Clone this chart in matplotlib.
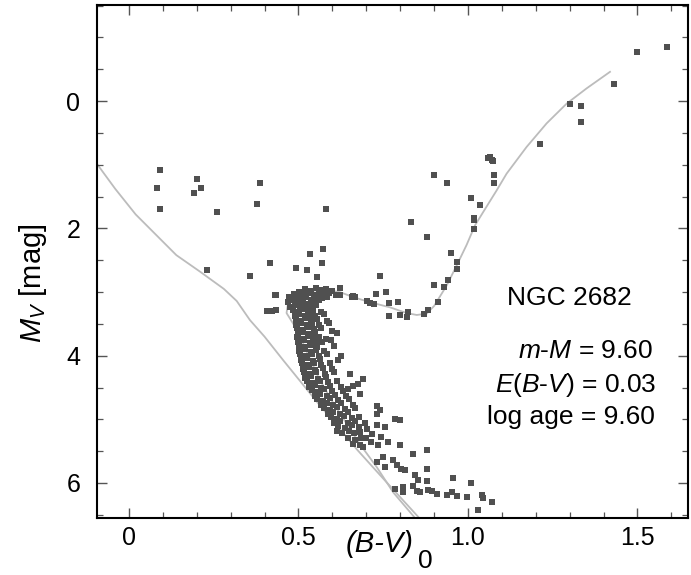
import matplotlib
matplotlib.use("Agg")
import matplotlib.pyplot as plt
from matplotlib.ticker import MultipleLocator

plt.rcParams['font.family'] = ['Liberation Sans', 'DejaVu Sans']
plt.rcParams['mathtext.fontset'] = 'custom'
plt.rcParams['mathtext.rm'] = 'Liberation Sans'
plt.rcParams['mathtext.it'] = 'Liberation Sans:italic'

# ZAMS-like line (left curve)
zams_bv = [-0.095, -0.04, 0.02, 0.08, 0.14, 0.21, 0.28, 0.318, 0.357,
           0.40, 0.455, 0.56, 0.622, 0.672, 0.75, 0.865]
zams_mv = [0.98, 1.38, 1.78, 2.10, 2.42, 2.68, 2.95, 3.14, 3.44,
           3.70, 4.07, 4.76, 5.15, 5.47, 5.93, 6.60]

# isochrone
iso_bv = [0.852, 0.78, 0.731, 0.68, 0.64, 0.60, 0.56, 0.53, 0.505, 0.485, 0.465, 0.47, 0.49,
          0.53, 0.58, 0.622, 0.662, 0.711, 0.770, 0.819, 0.849, 0.878, 0.90, 0.937, 0.967,
          0.996, 1.021, 1.05, 1.085, 1.114, 1.173, 1.232, 1.291, 1.350, 1.419]
iso_mv = [6.60, 6.15, 5.75, 5.38, 5.05, 4.72, 4.35, 4.00, 3.70, 3.50, 3.33, 3.15, 3.03,
          2.98, 2.97, 3.00, 3.08, 3.16, 3.24, 3.33, 3.36, 3.34, 3.22, 2.90, 2.58,
          2.26, 1.95, 1.70, 1.40, 1.14, 0.72, 0.35, 0.04, -0.20, -0.46]

# scattered stars (blue stragglers etc.)
bs_bv = [0.091, 0.082, 0.091, 0.200, 0.213, 0.192, 0.259, 0.386, 0.377, 0.580, 0.231, 0.357,
         0.417, 0.492, 0.524, 0.534, 0.573, 0.571, 0.554, 0.434, 0.406, 0.421, 0.434, 0.473,
         0.622, 0.431, 0.622, 0.657, 0.667]
bs_mv = [1.08, 1.36, 1.70, 1.23, 1.36, 1.44, 1.74, 1.29, 1.61, 1.69, 2.66, 2.74,
         2.54, 2.62, 2.66, 2.40, 2.33, 2.55, 2.77, 3.04, 3.30, 3.29, 3.28, 3.08,
         2.93, 3.05, 3.05, 3.07, 3.08]

# subgiant and giant branch
gb_bv = [1.065, 1.073, 1.077, 1.077, 1.060, 1.070, 0.901, 0.939, 1.009, 1.037, 1.018, 1.018,
         1.018, 0.831, 0.880, 0.949, 0.968, 0.968, 0.940, 0.930, 0.901, 0.911, 0.883, 0.870,
         0.824, 0.821, 0.801, 0.768, 0.740, 0.758, 0.729, 0.793, 0.768, 0.723, 0.711, 0.701,
         0.662, 1.499, 1.588, 1.432, 1.301, 1.332, 1.332, 1.212]
gb_mv = [0.885, 0.939, 1.159, 1.294, 0.90, 0.92, 1.159, 1.285, 1.520, 1.640, 1.829, 1.871,
         2.017, 1.898, 2.134, 2.379, 2.531, 2.642, 2.803, 2.920, 2.888, 3.156, 3.286, 3.349,
         3.313, 3.392, 3.365, 3.381, 2.752, 2.998, 3.024, 3.156, 3.171, 3.181, 3.171, 3.140,
         3.066, -0.775, -0.844, -0.267, 0.047, 0.079, 0.325, 0.681]

# turnoff and upper main sequence (one line per magnitude band)
ms_bv = [0.520, 0.538, 0.552, 0.566, 0.581, 0.598,
         0.488, 0.503, 0.512, 0.528, 0.545, 0.560, 0.575, 0.590, 0.612,
         0.478, 0.493, 0.508, 0.522, 0.537, 0.553, 0.571, 0.585,
         0.468, 0.484, 0.500, 0.515, 0.531, 0.546, 0.562,
         0.476, 0.491, 0.506, 0.519, 0.536, 0.552,
         0.483, 0.496, 0.512, 0.528, 0.543, 0.566,
         0.489, 0.503, 0.518, 0.531, 0.550, 0.575,
         0.492, 0.507, 0.521, 0.538, 0.556, 0.583,
         0.494, 0.509, 0.524, 0.541, 0.560, 0.590,
         0.496, 0.510, 0.527, 0.545, 0.566,
         0.499, 0.513, 0.530, 0.548, 0.598, 0.614,
         0.497, 0.512, 0.528, 0.544, 0.562, 0.580,
         0.500, 0.516, 0.533, 0.551, 0.571, 0.597,
         0.502, 0.518, 0.536, 0.555, 0.604,
         0.503, 0.519, 0.537, 0.553, 0.575,
         0.505, 0.521, 0.540, 0.560, 0.585, 0.626,
         0.508, 0.524, 0.542, 0.565, 0.617,
         0.510, 0.527, 0.546, 0.568, 0.592,
         0.513, 0.530, 0.550, 0.572, 0.600,
         0.516, 0.534, 0.553, 0.577, 0.605, 0.652,
         0.520, 0.538, 0.558, 0.582, 0.691,
         0.525, 0.543, 0.563, 0.587, 0.615, 0.677,
         0.530, 0.548, 0.568, 0.592, 0.625, 0.647, 0.662,
         0.540, 0.557, 0.576, 0.600, 0.632,
         0.548, 0.565, 0.585, 0.608, 0.640, 0.681,
         0.556, 0.573, 0.594, 0.617, 0.648,
         0.566, 0.583, 0.603, 0.626, 0.660, 0.731,
         0.576, 0.594, 0.613, 0.636, 0.668, 0.740,
         0.586, 0.603, 0.623, 0.646, 0.731,
         0.596, 0.613, 0.633, 0.657, 0.680, 0.785, 0.799,
         0.606, 0.623, 0.645, 0.668, 0.695,
         0.618, 0.636, 0.658, 0.680,
         0.630, 0.650, 0.665,
         0.645, 0.668, 0.700,
         0.660, 0.715, 0.735]
ms_mv = [2.95, 2.98, 2.94, 2.97, 2.95, 2.98,
         3.03, 3.00, 3.05, 3.01, 3.04, 3.00, 3.03, 3.01, 3.04,
         3.10, 3.07, 3.11, 3.08, 3.12, 3.07, 3.10, 3.08,
         3.16, 3.13, 3.17, 3.14, 3.18, 3.15, 3.13,
         3.23, 3.20, 3.24, 3.21, 3.23, 3.20,
         3.28, 3.31, 3.27, 3.30, 3.28, 3.31,
         3.37, 3.34, 3.38, 3.35, 3.37, 3.34,
         3.42, 3.45, 3.41, 3.44, 3.42, 3.45,
         3.51, 3.48, 3.52, 3.49, 3.51, 3.48,
         3.56, 3.59, 3.55, 3.58, 3.56,
         3.65, 3.62, 3.66, 3.63, 3.61, 3.65,
         3.70, 3.73, 3.69, 3.72, 3.70, 3.73,
         3.79, 3.76, 3.80, 3.77, 3.79, 3.76,
         3.84, 3.87, 3.83, 3.86, 3.84,
         3.93, 3.90, 3.94, 3.91, 3.93,
         3.98, 4.01, 3.97, 4.00, 3.98, 4.00,
         4.07, 4.04, 4.08, 4.05, 4.06,
         4.12, 4.15, 4.11, 4.14, 4.12,
         4.21, 4.18, 4.22, 4.19, 4.21,
         4.26, 4.29, 4.25, 4.28, 4.26, 4.29,
         4.35, 4.32, 4.36, 4.33, 4.37,
         4.40, 4.43, 4.39, 4.42, 4.40, 4.45,
         4.49, 4.46, 4.50, 4.47, 4.49, 4.52, 4.48,
         4.54, 4.57, 4.53, 4.56, 4.55,
         4.63, 4.60, 4.64, 4.61, 4.63, 4.60,
         4.68, 4.71, 4.67, 4.70, 4.68,
         4.77, 4.74, 4.78, 4.75, 4.77, 4.79,
         4.82, 4.85, 4.81, 4.84, 4.82, 4.86,
         4.91, 4.88, 4.92, 4.89, 4.91,
         4.96, 4.99, 4.95, 4.98, 4.96, 5.00, 5.01,
         5.05, 5.02, 5.06, 5.03, 5.05,
         5.10, 5.13, 5.09, 5.12,
         5.21, 5.18, 5.22,
         5.29, 5.32, 5.30,
         5.39, 5.36, 5.40]

# lower main sequence
lms_bv = [0.613, 0.681, 0.686, 0.701, 0.716, 0.731, 0.745, 0.755, 0.765, 0.799, 0.839, 0.878,
          0.878, 0.731, 0.750, 0.755, 0.780, 0.790, 0.804, 0.814, 0.844, 0.853, 0.878, 0.957,
          1.008, 0.785, 0.809, 0.809, 0.839, 0.849, 0.858, 0.883, 0.893, 0.908, 0.937, 0.952,
          0.967, 0.996, 1.040, 1.045, 1.070, 1.030, 0.691, 0.681]
lms_mv = [5.18, 5.20, 5.30, 5.15, 5.23, 5.09, 5.28, 5.12, 5.36, 5.41, 5.54, 5.48,
          5.78, 5.67, 5.59, 5.75, 5.64, 5.72, 5.78, 5.80, 5.88, 5.96, 5.97, 5.92,
          6.00, 6.09, 6.06, 6.14, 6.04, 6.12, 6.14, 6.11, 6.12, 6.17, 6.19, 6.14,
          6.21, 6.22, 6.19, 6.24, 6.30, 6.43, 5.44, 5.41]

fig = plt.figure(figsize=(6.91, 5.75), dpi=100)
ax = fig.add_axes([97 / 691, 1 - 518 / 575, 591 / 691, 513 / 575])

ax.plot(zams_bv, zams_mv, color='#bcbcbc', lw=1.3, zorder=1)
ax.plot(iso_bv, iso_mv, color='#bcbcbc', lw=1.3, zorder=1)

star = dict(marker='s', s=18, color='#505050', linewidths=0, zorder=2)
ax.scatter(bs_bv, bs_mv, **star)
ax.scatter(gb_bv, gb_mv, **star)
ax.scatter(ms_bv, ms_mv, **star)
ax.scatter(lms_bv, lms_mv, **star)

ax.set_xlim(-0.094, 1.649)
ax.set_ylim(6.55, -1.51)

ax.set_xticks([0, 0.5, 1.0, 1.5])
ax.set_xticklabels(['0', '0.5', '1.0', '1.5'])
ax.set_yticks([0, 2, 4, 6])
ax.set_yticklabels(['0', '2', '4', '6'])
ax.xaxis.set_minor_locator(MultipleLocator(0.1))
ax.yaxis.set_minor_locator(MultipleLocator(0.5))
ax.tick_params(which='both', direction='in', top=True, right=True, color='#555555', labelsize=18)
ax.tick_params(which='major', length=7, width=1.0)
ax.tick_params(which='minor', length=4, width=0.9)
ax.tick_params(axis='x', pad=6)
ax.tick_params(axis='y', pad=12)
for sp in ax.spines.values():
    sp.set_linewidth(1.5)

# axis titles
fig.text(346 / 691, 1 - 552 / 575, '(B-V)', style='italic', fontsize=21, va='baseline', ha='left')
fig.text(418 / 691, 1 - 568 / 575, '0', fontsize=19, va='baseline', ha='left')
ax.text(-0.108, 0.458, r'$M_V$ [mag]', transform=ax.transAxes, rotation=90,
        ha='center', va='center', fontsize=21)

ax.text(1.30, 3.10, 'NGC 2682', ha='center', va='center', fontsize=19)
ax.text(1.545, 3.93, r'$m$-$M$ = 9.60', ha='right', va='center', fontsize=19)
ax.text(1.555, 4.46, r'$E$($B$-$V$) = 0.03', ha='right', va='center', fontsize=19)
ax.text(1.552, 4.97, 'log age = 9.60', ha='right', va='center', fontsize=19)

fig.savefig('out.png', dpi=100)
